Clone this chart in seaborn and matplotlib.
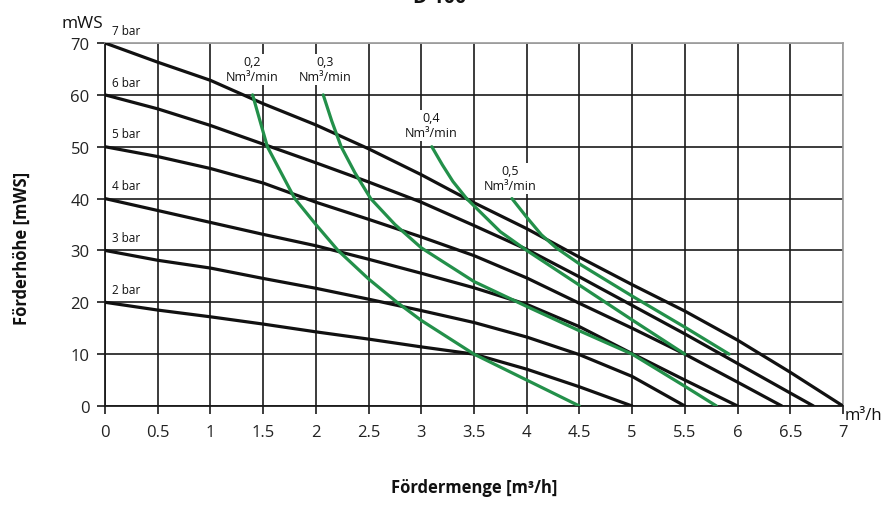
import matplotlib
matplotlib.use("Agg")
import matplotlib.pyplot as plt
import numpy as np
import pandas as pd
import seaborn as sns

# ---- data: pump curves at inlet air pressure (x = m³/h, y = mWS) ----
bar_names = ["7 bar", "6 bar", "5 bar", "4 bar", "3 bar", "2 bar"]
bar7_x = [0, 0.5, 1, 1.5, 2, 2.5, 3, 3.5, 4, 4.5, 5, 5.5, 6, 6.5, 7]
bar7_y = [70, 66.3, 62.8, 58.3, 54.2, 49.6, 44.6, 39.2, 34.2, 28.7, 23.4, 18.3, 12.7, 6.5, 0]
bar6_x = [0, 0.5, 1, 1.5, 2, 2.5, 3, 3.5, 4, 4.5, 5, 5.5, 6, 6.5, 6.72]
bar6_y = [60, 57.3, 54.1, 50.5, 46.9, 43.2, 39.3, 34.8, 30.2, 24.9, 19.4, 13.9, 8.2, 2.5, 0]
bar5_x = [0, 0.5, 1, 1.5, 2, 2.5, 3, 3.5, 4, 4.5, 5, 5.5, 6, 6.42]
bar5_y = [50, 48.1, 45.8, 43.0, 39.3, 36.0, 32.6, 29.0, 24.7, 19.8, 15.0, 10.0, 4.6, 0]
bar4_x = [0, 0.5, 1, 1.5, 2, 2.5, 3, 3.5, 4, 4.5, 5, 5.5, 6]
bar4_y = [40, 37.7, 35.4, 33.1, 30.9, 28.3, 25.6, 22.8, 19.6, 15.3, 10.1, 5.0, 0]
bar3_x = [0, 0.5, 1, 1.5, 2, 2.5, 3, 3.5, 4, 4.5, 5, 5.5]
bar3_y = [30, 28.1, 26.6, 24.6, 22.7, 20.6, 18.4, 16.1, 13.3, 9.9, 5.7, 0]
bar2_x = [0, 0.5, 1, 1.5, 2, 2.5, 3, 3.5, 4, 4.5, 5]
bar2_y = [20, 18.5, 17.2, 15.8, 14.3, 12.9, 11.4, 10.0, 7.1, 3.7, 0]

# ---- data: air consumption curves (Nm³/min) ----
air_names = ["0,2", "0,3", "0,4", "0,5"]
air02_x = [1.40, 1.54, 1.80, 2.00, 2.21, 2.50, 2.77, 3.00, 3.50, 4.00, 4.50]
air02_y = [60, 50, 40, 35.0, 30, 24.5, 20, 16.5, 10, 5, 0]
air03_x = [2.07, 2.15, 2.24, 2.37, 2.52, 2.75, 3.0, 3.5, 4.0, 4.5, 5.0, 5.5, 5.8]
air03_y = [60, 55, 50, 45, 40, 35, 30.5, 24, 19.2, 14.5, 10, 3.8, 0]
air04_x = [3.10, 3.20, 3.30, 3.43, 3.55, 3.75, 4.0, 4.5, 5.0, 5.5]
air04_y = [50, 46.5, 43.3, 40, 37.6, 33.6, 30, 23.3, 16.6, 10]
air05_x = [3.86, 4.0, 4.14, 4.28, 4.5, 5.0, 5.5, 5.92]
air05_y = [40, 36.4, 33, 30.5, 27.4, 21.2, 15.2, 10]

x_ticks = [0, 0.5, 1, 1.5, 2, 2.5, 3, 3.5, 4, 4.5, 5, 5.5, 6, 6.5, 7]
x_tick_labels = ["0", "0.5", "1", "1.5", "2", "2.5", "3", "3.5", "4", "4.5", "5", "5.5", "6", "6.5", "7"]
y_ticks = [0, 10, 20, 30, 40, 50, 60, 70]

bars_xy = [(bar7_x, bar7_y), (bar6_x, bar6_y), (bar5_x, bar5_y),
           (bar4_x, bar4_y), (bar3_x, bar3_y), (bar2_x, bar2_y)]
air_xy = [(air02_x, air02_y), (air03_x, air03_y), (air04_x, air04_y), (air05_x, air05_y)]

df_bar = pd.concat([pd.DataFrame({"x": x, "y": y, "curve": n})
                    for n, (x, y) in zip(bar_names, bars_xy)], ignore_index=True)
df_air = pd.concat([pd.DataFrame({"x": x, "y": y, "curve": n})
                    for n, (x, y) in zip(air_names, air_xy)], ignore_index=True)

sns.set_theme(style="white")
plt.rcParams["font.family"] = ["Open Sans", "DejaVu Sans"]

fig = plt.figure(figsize=(8.85, 5.06), dpi=100)
ax = fig.add_axes([105 / 885, 99 / 506, 738 / 885, 363 / 506])

BLACK = "#111111"
GREEN = "#23904a"

sns.lineplot(data=df_bar, x="x", y="y", hue="curve", units="curve", estimator=None,
             sort=False, palette={n: BLACK for n in bar_names}, linewidth=2.3,
             legend=False, ax=ax, zorder=5)
sns.lineplot(data=df_air, x="x", y="y", hue="curve", units="curve", estimator=None,
             sort=False, palette={n: GREEN for n in air_names}, linewidth=2.3,
             legend=False, ax=ax, zorder=6)

ax.set_xlim(0, 7)
ax.set_ylim(0, 70)
ax.set_xticks(x_ticks)
ax.set_xticklabels(x_tick_labels)
ax.set_yticks(y_ticks)
ax.grid(True, color="#1a1a1a", linewidth=1.2)
ax.set_axisbelow(True)
ax.get_ygridlines()[-1].set_color("#9a9a9a")
ax.get_xgridlines()[-1].set_color("#9a9a9a")

for side in ["left", "bottom"]:
    ax.spines[side].set_color("#1a1a1a")
    ax.spines[side].set_linewidth(1.3)
for side in ["top", "right"]:
    ax.spines[side].set_color("#9a9a9a")
    ax.spines[side].set_linewidth(1.2)

ax.tick_params(axis="both", direction="out", length=6, width=1.2, color="#1a1a1a",
               labelsize=12, labelcolor="#222222", bottom=True, left=True)
ax.tick_params(axis="x", pad=7)
ax.tick_params(axis="y", pad=5)

ax.set_xlabel("Fördermenge [m³/h]", fontsize=12, fontweight="bold", color="#111111")
ax.set_ylabel("Förderhöhe [mWS]", fontsize=12, fontweight="bold", color="#111111")
ax.xaxis.set_label_coords(0.5, -0.198)
ax.yaxis.set_label_coords(-0.10, 0.438)

# pressure labels
for n, (x, y) in zip(bar_names, bars_xy):
    ax.text(0.07, y[0] + 1.2, n, fontsize=8.5, ha="left", va="bottom",
            color="#111111", clip_on=False)

# air consumption labels
air_label_pos = [(1.40, 64.9), (2.09, 64.9), (3.09, 54.1), (3.84, 43.9)]
for n, (lx, ly) in zip(air_names, air_label_pos):
    ax.text(lx, ly, n + "\nNm³/min", fontsize=9, ha="center", va="center",
            linespacing=1.2, color="#111111", zorder=7,
            bbox=dict(boxstyle="square,pad=0.1", fc="white", ec="none"))

ax.text(-0.031, 1.056, "mWS", transform=ax.transAxes, fontsize=12.5,
        ha="center", va="center", color="#111111")
ax.text(1.028, -0.025, "m³/h", transform=ax.transAxes, fontsize=12,
        ha="center", va="center", color="#111111")

fig.text(440 / 885, 1 - 3 / 506, "D 100", fontsize=14, fontweight="bold",
         ha="center", va="baseline", color="#111111")

fig.savefig("out.png", dpi=100, facecolor="white")
